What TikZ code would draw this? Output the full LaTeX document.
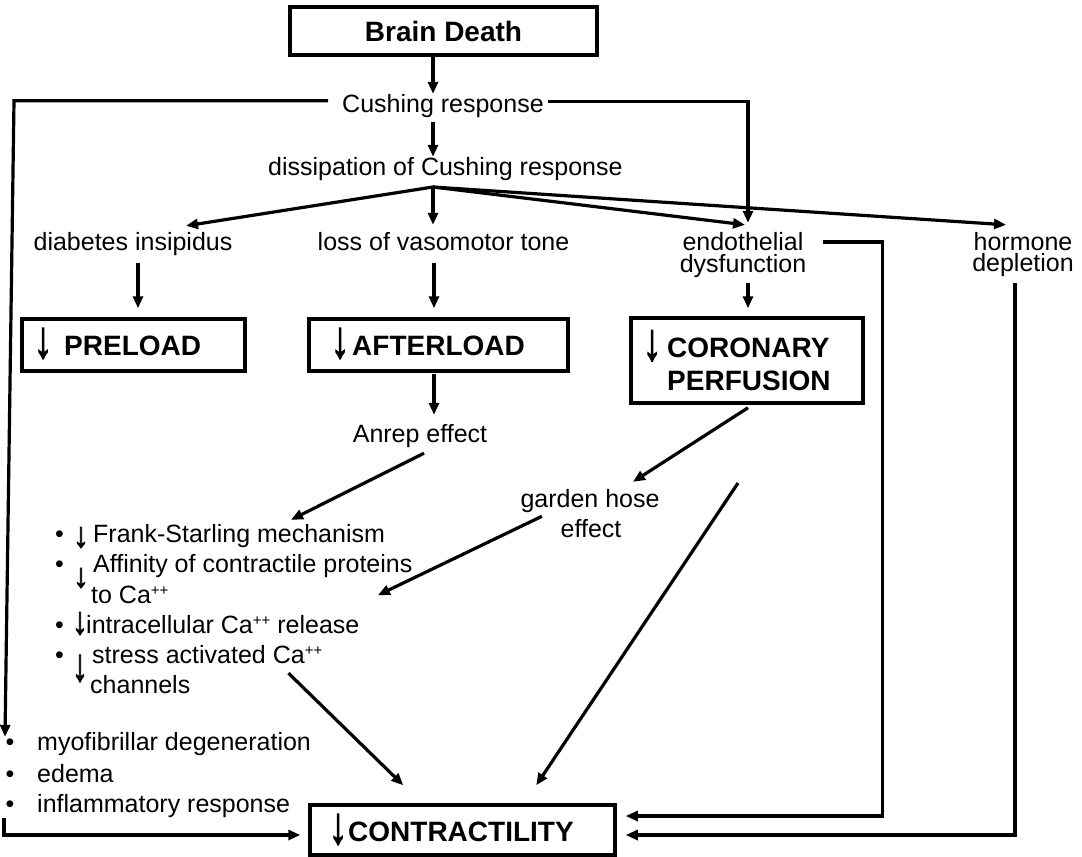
\documentclass[tikz,border=0pt]{standalone}
\usepackage{fontspec}
\usepackage{graphicx}
\setmainfont{Liberation Sans}
\newfontfamily\arrfont{Liberation Sans}[FakeBold=2.5]
\usetikzlibrary{arrows.meta,calc}
% down arrow glyph stretched to a given height (#1), lowered by #2
\newcommand\darrg[2]{\raisebox{#2}{\resizebox{1.3\width}{#1}{\raisebox{\depth}{\arrfont ↓}}}}
\newcommand\darr{\darrg{31pt}{-4pt}}
\newcommand\pp{\raisebox{8pt}{\fontsize{15}{15}\selectfont ++}}
\begin{document}
\begin{tikzpicture}[x=1pt,y=-1pt,
  ntext/.style={font=\fontsize{25}{30}\selectfont, inner sep=0pt, text height=18pt, text depth=5.5pt},
  agl/.style={font=\fontsize{25}{30}\selectfont, inner sep=0pt},
  boxed/.style={draw, line width=3.5pt, inner sep=0pt, align=left, font=\bfseries\fontsize{28}{33}\selectfont},
  conn/.style={line width=3.2pt, -{Triangle[length=12pt,width=10pt]}}]
\fill[white] (0,0) rectangle (1082,857);
\useasboundingbox (0,0) rectangle (1082,857);

% boxes
\node[boxed, align=center, minimum width=307pt, minimum height=48pt, text height=20pt, text depth=0pt] (bd) at (443.5,31) {Brain Death};
\node[boxed, minimum width=223pt, minimum height=52pt, text width=199pt, text height=20pt, text depth=0pt] (pre) at (133.5,345) {\darr\hspace{12pt}PRELOAD};
\node[boxed, minimum width=259pt, minimum height=52pt, text width=215pt, text height=20pt, text depth=0pt] (aft) at (438.5,345) {\darr\hspace{3pt}AFTERLOAD};
\node[boxed, minimum width=232pt, minimum height=85pt, text width=208pt] (cor) at (747,360.5) {\darr\hspace{6pt}CORONARY\\\phantom{\darrg{20pt}{0pt}}\hspace{6pt}PERFUSION};
\node[boxed, minimum width=305pt, minimum height=50pt, text width=267pt, text height=22pt, text depth=0pt] (con) at (462.5,830) {\darr\hspace{1pt}CONTRACTILITY};

% texts
\node[ntext, anchor=base west] (cush) at (342,112) {Cushing response};
\node[ntext, anchor=base west] (diss) at (268,175) {dissipation of Cushing response};
\coordinate (fan) at (433,187);
\node[ntext, anchor=base] (di) at (133,250) {diabetes insipidus};
\node[ntext, anchor=base] (lv) at (443.5,250) {loss of vasomotor tone};
\node[ntext, anchor=base, text depth=2pt] (ed1) at (743,250) {endothelial};
\node[ntext, anchor=base] (ed2) at (743,272) {dysfunction};
\node[ntext, anchor=base, text depth=2pt] (hd1) at (1023,250) {hormone};
\node[ntext, anchor=base] (hd2) at (1023,271) {depletion};
\node[ntext, anchor=base] (anr) at (420,442) {Anrep effect};
\node[ntext, anchor=base, text depth=3pt] (gh1) at (590,507) {garden hose};
\node[ntext, anchor=base] (gh2) at (591,537) {effect};

% upper list
\node[ntext, anchor=base west] (u1) at (55,542) {•};
\node[ntext, anchor=base west] (u2) at (55,572) {•};
\node[ntext, anchor=base west] (u4) at (55,633) {•};
\node[ntext, anchor=base west] (u5) at (55,663) {•};
\node[agl] (a1) at (81,537.5) {\darrg{21pt}{0pt}};
\node[agl] (a2) at (81,578) {\darrg{20pt}{0pt}};
\node[agl] (a4) at (80,623.5) {\darrg{23pt}{0pt}};
\node[agl] (a5) at (80,668.5) {\darrg{27pt}{0pt}};
\node[ntext, anchor=base west] (l1) at (93,542) {Frank-Starling mechanism};
\node[ntext, anchor=base west] (l2) at (93,572) {Affinity of contractile proteins};
\node[ntext, anchor=base west] (l3) at (91,603) {to Ca\pp};
\node[ntext, anchor=base west] (l4) at (86,633) {intracellular Ca\pp{} release};
\node[ntext, anchor=base west] (l5) at (92,663) {stress activated Ca\pp};
\node[ntext, anchor=base west] (l6) at (90,693) {channels};

% lower list
\node[ntext, anchor=base west] (v1) at (5.5,750) {•};
\node[ntext, anchor=base west] (v2) at (5.5,782) {•};
\node[ntext, anchor=base west] (v3) at (5.5,812) {•};
\node[ntext, anchor=base west] (m1) at (37,750) {myofibrillar degeneration};
\node[ntext, anchor=base west] (m2) at (37,782) {edema};
\node[ntext, anchor=base west] (m3) at (37,812) {inflammatory response};

\coordinate (free) at (738,483);

% connectors
\draw[conn] (bd.south -| fan) -- (cush.north -| fan);
\draw[conn, shorten <=4.5pt] (cush.south -| fan) -- (diss.north -| fan);
\draw[conn] ($(cush.west)+(-14,-5)$) -- ++(-314,0) -- ($(v1.north west)+(-0.5,5)$);
\draw[conn] ($(cush.east)+(4.5,-4)$) -| ($(ed1.north)+(5,-9)$);
\draw[conn] (fan) -- ($(di.north)+(53,-6)$);
\draw[conn] (fan) -- ($(lv.north)+(-10.5,-7)$);
\draw[conn] (fan) -- ($(ed1.north)+(2,-7)$);
\draw[conn] (fan) -- ($(hd1.north)+(-17,-7)$);
\draw[conn] ($(di.south)+(5,7.5)$) -- ($(pre.north)+(4.5,-9)$);
\draw[conn] ($(lv.south)+(-9.5,7.5)$) -- ($(aft.north)+(-4.5,-9)$);
\draw[conn] ($(ed2.south)+(5,5.5)$) -- ($(cor.north)+(1,-8)$);
\draw[conn] ($(aft.south)+(-4.5,1)$) -- ($(anr.north)+(14,-9)$);
\draw[conn] ($(anr.south)+(4,5.5)$) -- ($(l1.north west)+(198,-4)$);
\draw[conn] ($(cor.south)+(1,3)$) -- ($(gh1.north)+(43,-7)$);
\draw[conn] ($(gh2.west)+(-18.5,-14.5)$) -- ($(l2.south east)+(-34.6,17.5)$);
\draw[conn] ($(l5.south east)+(-34,4.5)$) -- ($(con.north west)+(95,-18)$);
\draw[conn] (free) -- ($(con.north west)+(228,-18)$);
\draw[conn] ($(ed1.east)+(19.5,0)$) -- ++(59,0) |- ($(con.east)+(9,-14)$);
\draw[conn] ($(hd2.south)+(-8,6.5)$) |- ($(con.east)+(9,5)$);
\draw[conn] ($(v3.south west)+(-1.5,0.5)$) |- ($(con.west)+(-8,5)$);
\end{tikzpicture}
\end{document}
